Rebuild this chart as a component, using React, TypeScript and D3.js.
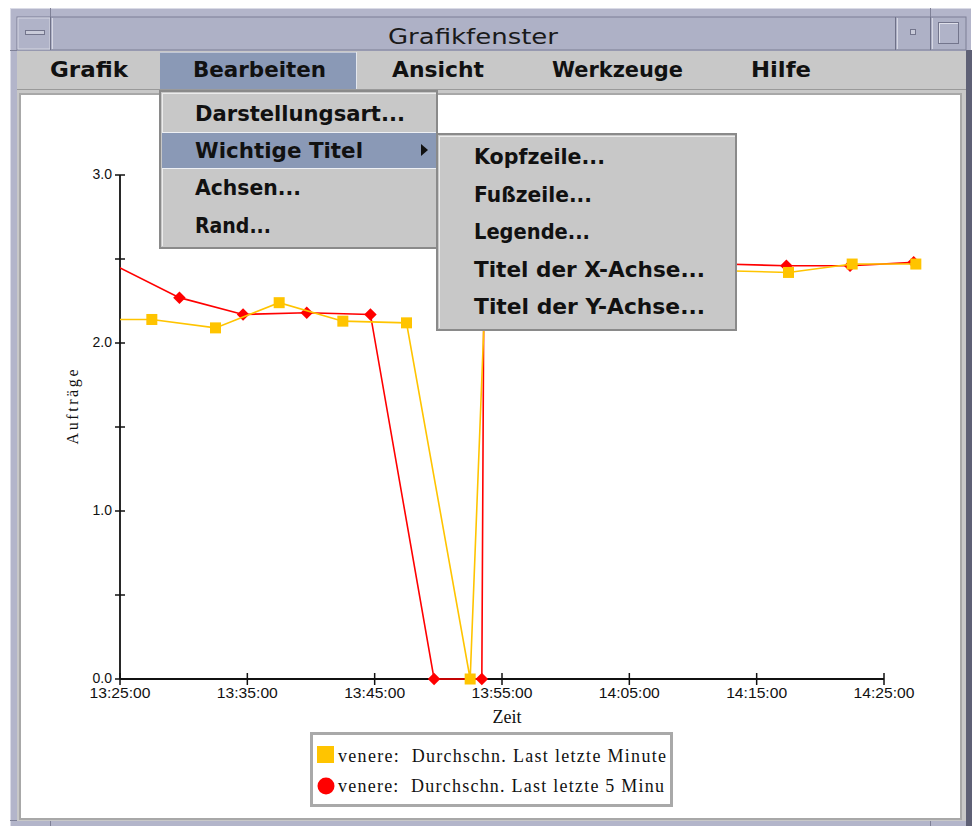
import React from "react";
import * as d3 from "d3";

const parseTime = d3.timeParse("%H:%M:%S");

// Series: venere: Durchschn. Last letzte Minute (yellow squares)
const minuteTimes = ["13:22:30", "13:27:30", "13:32:30", "13:37:30", "13:42:30", "13:47:30", "13:52:30", "13:53:45", "13:57:30", "14:02:30", "14:07:30", "14:12:30", "14:17:30", "14:22:30", "14:27:30"];
const minuteValues = [2.14, 2.14, 2.09, 2.24, 2.13, 2.12, 0, 2.44, 2.44, 2.43, 2.43, 2.43, 2.42, 2.47, 2.47];

// Series: venere: Durchschn. Last letzte 5 Minuten (red diamonds)
const fiveMinTimes = ["13:24:40", "13:29:40", "13:34:40", "13:39:40", "13:44:40", "13:49:40", "13:53:25", "13:53:35", "13:57:20", "14:02:20", "14:07:20", "14:12:20", "14:17:20", "14:22:20", "14:27:20"];
const fiveMinValues = [2.46, 2.27, 2.17, 2.18, 2.17, 0, 0, 2.46, 2.46, 2.46, 2.47, 2.47, 2.46, 2.46, 2.48];

const xTickLabels = ["13:25:00", "13:35:00", "13:45:00", "13:55:00", "14:05:00", "14:15:00", "14:25:00"];
const yTickValues = [0, 0.5, 1, 1.5, 2, 2.5, 3];
const yTickLabels = ["0.0", "", "1.0", "", "2.0", "", "3.0"];

const windowTitle = "Grafikfenster";
const menuBarItems = ["Grafik", "Bearbeiten", "Ansicht", "Werkzeuge", "Hilfe"];
const editMenuItems = ["Darstellungsart...", "Wichtige Titel", "Achsen...", "Rand..."];
const titleSubmenuItems = ["Kopfzeile...", "Fußzeile...", "Legende...", "Titel der X-Achse...", "Titel der Y-Achse..."];
const legendLabels = ["venere:  Durchschn. Last letzte Minute", "venere:  Durchschn. Last letzte 5 Minu"];
const xAxisTitle = "Zeit";
const yAxisTitle = "Aufträge";

// layout (chrome)
const menuBarX = [50, 193, 392, 552, 751];
const menuBarW = [78, 133, 92, 131, 60];
const editW = [210, 168, 106, 76];
const subW = [131, 118, 116, 231, 231];

const YELLOW = "#ffc400";
const RED = "#ff0000";
const MENU_FONT = "'DejaVu Sans', sans-serif";

type Pt = { t: Date; v: number };

export default function App() {
  const t0 = parseTime(xTickLabels[0]) as Date;
  const t1 = parseTime(xTickLabels[xTickLabels.length - 1]) as Date;
  const x = d3.scaleTime().domain([t0, t1]).range([120, 884]);
  const y = d3.scaleLinear().domain([0, 3]).range([679, 175]);

  const minute: Pt[] = minuteTimes.map((s, i) => ({ t: parseTime(s) as Date, v: minuteValues[i] }));
  const fiveMin: Pt[] = fiveMinTimes.map((s, i) => ({ t: parseTime(s) as Date, v: fiveMinValues[i] }));
  const line = d3.line<Pt>().x((d) => x(d.t)).y((d) => y(d.v));
  const visible = (d: Pt) => d.t >= t0;
  const diamond = d3.symbol().type(d3.symbolSquare).size(78)() as string;

  return (
    <svg width={977} height={826} style={{ position: "absolute", left: 0, top: 0, background: "#fff" }}>
      <defs>
        <clipPath id="plotClip">
          <rect x={120} y={100} width={840} height={600} />
        </clipPath>
      </defs>

      {/* window frame */}
      <rect x={10} y={8} width={961} height={830} fill="#b3b5ca" />
      <line x1={10.5} y1={8} x2={10.5} y2={826} stroke="#dadbe6" />
      <line x1={10} y1={8.5} x2={971} y2={8.5} stroke="#dadbe6" />
      <rect x={966} y={50} width={6} height={776} fill="#5e6075" />
      <line x1={50.5} y1={8} x2={50.5} y2={17} stroke="#7f8197" />
      <line x1={930.5} y1={8} x2={930.5} y2={17} stroke="#7f8197" />
      <line x1={10} y1={50.5} x2={17} y2={50.5} stroke="#7f8197" />
      <line x1={10} y1={820.5} x2={17} y2={820.5} stroke="#7f8197" />
      <line x1={50.5} y1={820} x2={50.5} y2={826} stroke="#7f8197" />
      <line x1={930.5} y1={820} x2={930.5} y2={826} stroke="#7f8197" />

      {/* title bar */}
      <rect x={17} y={17} width={949} height={33} fill="#aeb1c6" stroke="#7d7f95" />
      <rect x={18} y={18} width={32} height={31} fill="#b0b3c8" stroke="#d6d7e3" />
      <line x1={50.5} y1={17} x2={50.5} y2={50} stroke="#6f7188" />
      <line x1={52.5} y1={18} x2={52.5} y2={49} stroke="#d6d7e3" />
      <line x1={895.5} y1={17} x2={895.5} y2={50} stroke="#6f7188" />
      <line x1={897.5} y1={18} x2={897.5} y2={49} stroke="#d6d7e3" />
      <line x1={930.5} y1={17} x2={930.5} y2={50} stroke="#6f7188" />
      <line x1={932.5} y1={18} x2={932.5} y2={49} stroke="#d6d7e3" />
      <rect x={25.5} y={30.5} width={19} height={4} fill="#c9cbd9" stroke="#73758c" />
      <rect x={910.5} y={29.5} width={5} height={5} fill="#c9cbd9" stroke="#73758c" />
      <rect x={938.5} y={22.5} width={20} height={21} fill="#b0b3c8" stroke="#73758c" />
      <line x1={939} y1={23.5} x2={958} y2={23.5} stroke="#dfe0ea" />
      <line x1={939.5} y1={23} x2={939.5} y2={43} stroke="#dfe0ea" />
      <text x={473} y={44} textAnchor="middle" fontFamily={MENU_FONT} fontSize={22} fill="#1a1a1a" textLength={170} lengthAdjust="spacingAndGlyphs">
        {windowTitle}
      </text>

      {/* menu bar */}
      <rect x={17} y={51} width={949} height={39} fill="#c8c8c8" />
      <line x1={17} y1={89.5} x2={966} y2={89.5} stroke="#9a9a9a" />
      <rect x={160} y={52} width={197} height={37} fill="#8a99b6" />
      <line x1={160} y1={52.5} x2={357} y2={52.5} stroke="#c0c6d6" />
      <line x1={356.5} y1={52} x2={356.5} y2={89} stroke="#e4e7ee" />
      {menuBarItems.map((s, i) => (
        <text key={s} x={menuBarX[i]} y={77} fontFamily={MENU_FONT} fontWeight="bold" fontSize={21} fill="#111" textLength={menuBarW[i]} lengthAdjust="spacingAndGlyphs">
          {s}
        </text>
      ))}

      {/* chart panel */}
      <rect x={17} y={90} width={949} height={731} fill="#c8c8c8" />
      <rect x={19} y={93} width={943} height={727} fill="#a8a8a8" />
      <rect x={21} y={95} width={939} height={723} fill="#ffffff" />

      {/* axes */}
      <g stroke="#111" strokeWidth={1.8}>
        <line x1={120} y1={y(3)} x2={120} y2={y(0)} />
        <line x1={120} y1={y(0)} x2={x(t1)} y2={y(0)} />
        {yTickValues.map((v) => (
          <line key={"yt" + v} x1={115} x2={125} y1={y(v)} y2={y(v)} strokeWidth={1.5} />
        ))}
        {xTickLabels.map((s) => {
          const xx = x(parseTime(s) as Date);
          return <line key={"xt" + s} x1={xx} x2={xx} y1={y(0) - 6} y2={y(0) + 6} strokeWidth={1.5} />;
        })}
      </g>
      {yTickValues.map((v, i) =>
        yTickLabels[i] ? (
          <text key={"yl" + v} x={112} y={y(v) + 3.5} textAnchor="end" fontFamily="'Liberation Sans', Arial, sans-serif" fontSize={14} fill="#111">
            {yTickLabels[i]}
          </text>
        ) : null
      )}
      {xTickLabels.map((s) => (
        <text key={"xl" + s} x={x(parseTime(s) as Date)} y={698} textAnchor="middle" fontFamily="'Liberation Sans', Arial, sans-serif" fontSize={14} fill="#111" textLength={61} lengthAdjust="spacingAndGlyphs">
          {s}
        </text>
      ))}
      <text x={507} y={723} textAnchor="middle" fontFamily="'Liberation Serif', 'Times New Roman', serif" fontSize={18} fill="#111">
        {xAxisTitle}
      </text>
      <text transform="translate(78,407) rotate(-90)" textAnchor="middle" fontFamily="'Liberation Serif', 'Times New Roman', serif" fontSize={16} fill="#111" textLength={75} lengthAdjust="spacing">
        {yAxisTitle}
      </text>

      {/* data */}
      <g clipPath="url(#plotClip)">
        <path d={line(fiveMin) || ""} fill="none" stroke={RED} strokeWidth={1.6} />
        {fiveMin.filter(visible).map((d, i) => (
          <path key={"r" + i} d={diamond} transform={`translate(${x(d.t)},${y(d.v)}) rotate(45)`} fill={RED} />
        ))}
        <path d={line(minute) || ""} fill="none" stroke={YELLOW} strokeWidth={1.6} />
        {minute.filter(visible).map((d, i) => (
          <rect key={"y" + i} x={x(d.t) - 5.5} y={y(d.v) - 5.5} width={11} height={11} fill={YELLOW} />
        ))}
      </g>

      {/* legend */}
      <rect x={311.5} y={733.5} width={360} height={72} fill="#fff" stroke="#a9a9a9" strokeWidth={3} />
      <rect x={317} y={746} width={17} height={17} fill={YELLOW} />
      <circle cx={326} cy={786} r={8.5} fill={RED} />
      {legendLabels.map((s, i) => (
        <text key={"lg" + i} x={338} y={762 + i * 30} fontFamily="'Liberation Serif', 'Times New Roman', serif" fontSize={18} fill="#111" xmlSpace="preserve" style={{ whiteSpace: "pre" }} textLength={i === 0 ? 328 : 326} lengthAdjust="spacing">
          {s}
        </text>
      ))}

      {/* Bearbeiten dropdown */}
      <rect x={160} y={91} width={277} height={157} fill="#c8c8c8" stroke="#8a8a8a" strokeWidth={2} />
      <line x1={162} y1={93.5} x2={436} y2={93.5} stroke="#ececec" />
      <line x1={162.5} y1={93} x2={162.5} y2={246} stroke="#ececec" />
      <rect x={162} y={133} width={274} height={35} fill="#8a99b6" />
      <line x1={162} y1={132.5} x2={436} y2={132.5} stroke="#eef0f4" />
      <line x1={162} y1={168.5} x2={436} y2={168.5} stroke="#eef0f4" />
      <path d="M421,144 L428,150 L421,156 Z" fill="#111" />
      {editMenuItems.map((s, i) => (
        <text key={"em" + i} x={195} y={[121, 158, 195, 233][i]} fontFamily={MENU_FONT} fontWeight="bold" fontSize={21} fill="#111" textLength={editW[i]} lengthAdjust="spacingAndGlyphs">
          {s}
        </text>
      ))}

      {/* submenu */}
      <rect x={437} y={134} width={299} height={196} fill="#c8c8c8" stroke="#8a8a8a" strokeWidth={2} />
      <line x1={439} y1={136.5} x2={735} y2={136.5} stroke="#ececec" />
      <line x1={439.5} y1={136} x2={439.5} y2={328} stroke="#ececec" />
      {titleSubmenuItems.map((s, i) => (
        <text key={"sm" + i} x={474} y={[164, 202, 239, 277, 314][i]} fontFamily={MENU_FONT} fontWeight="bold" fontSize={21} fill="#111" textLength={subW[i]} lengthAdjust="spacingAndGlyphs">
          {s}
        </text>
      ))}
    </svg>
  );
}
